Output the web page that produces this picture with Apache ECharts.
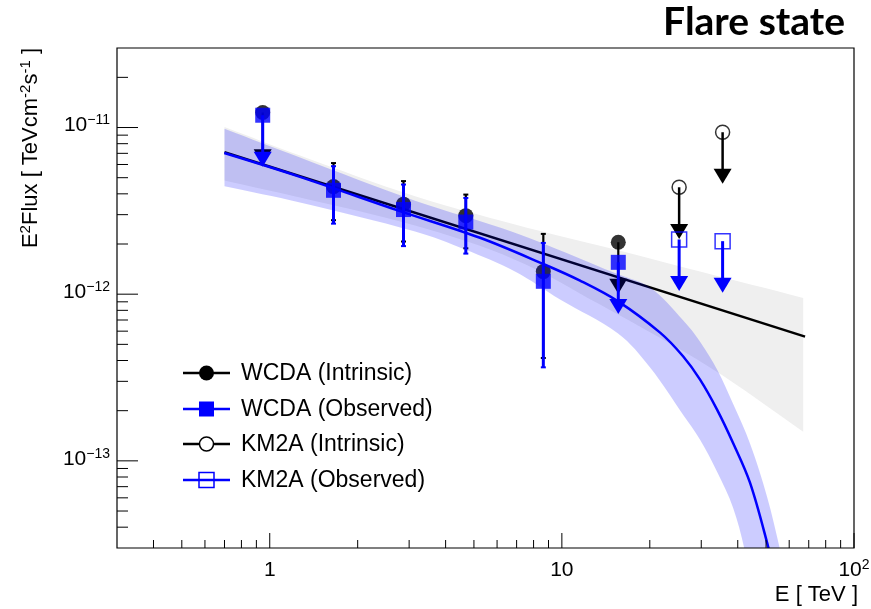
<!DOCTYPE html>
<html>
<head>
<meta charset="utf-8">
<title>Flare state</title>
<script src="https://cdn.jsdelivr.net/npm/echarts@6.0.0/dist/echarts.min.js"></script>
<style>
html,body{margin:0;padding:0;background:#ffffff;}
#chart{width:871px;height:609px;}
</style>
</head>
<body>
<div id="chart"></div>
<script>
// ---------------- data ----------------
// WCDA points (energy in TeV, E^2 flux in TeV cm^-2 s^-1)
const wcdaE      = [0.946, 1.653, 2.87, 4.69, 8.64, 15.6];
const wcdaIsUL   = [1, 0, 0, 0, 0, 1];
const wcdaIntF   = [1.23e-11, 4.42e-12, 3.47e-12, 2.96e-12, 1.366e-12, 2.05e-12];
const wcdaIntLo  = [null, 2.78e-12, 2.07e-12, 1.885e-12, 4.14e-13, null];
const wcdaIntHi  = [null, 6.12e-12, 4.77e-12, 3.96e-12, 2.30e-12, null];
const wcdaObsF   = [1.185e-11, 4.20e-12, 3.22e-12, 2.71e-12, 1.195e-12, 1.553e-12];
const wcdaObsLo  = [null, 2.65e-12, 1.943e-12, 1.752e-12, 3.64e-13, null];
const wcdaObsHi  = [null, 5.86e-12, 4.55e-12, 3.78e-12, 2.03e-12, null];
// KM2A upper limits
const km2aE      = [25.2, 35.5];
const km2aIntUL  = [4.38e-12, 9.37e-12];
const km2aObsUL  = [2.13e-12, 2.08e-12];

// intrinsic (power-law) fit line
const intFitE = [0.7, 68];
const intFitF = [7.11e-12, 5.56e-13];
// observed (absorbed) fit line
const obsFitE = [0.699, 1.269, 2.792, 5.245, 8.62, 11.54, 15.57, 21.69, 25.99, 29.72, 33.98, 38.55, 44.08, 50.79, 52.4];
const obsFitF = [7.03e-12, 5.06e-12, 3.15e-12, 2.18e-12, 1.52e-12, 1.206e-12, 9.06e-13, 5.88e-13, 4.24e-13, 3.07e-13, 2.03e-13, 1.28e-13, 7.37e-14, 3.07e-14, 2.38e-14];

// intrinsic fit uncertainty band (grey)
const intBandUpE = [0.7, 1.269, 3.143, 6.91, 15.2, 29.72, 67];
const intBandUpF = [1.007e-11, 6.79e-12, 3.87e-12, 2.62e-12, 1.852e-12, 1.366e-12, 9.50e-13];
const intBandLoE = [0.7, 1.269, 3.143, 6.91, 13.51, 32.15, 67];
const intBandLoF = [4.81e-12, 3.80e-12, 2.58e-12, 1.612e-12, 8.66e-13, 3.63e-13, 1.497e-13];

// observed fit uncertainty band (blue)
const obsBandUpE = [0.7, 1.269, 3.143, 6.91, 15.57, 20.04, 25.99, 29.72, 33.98, 38.55, 44.08, 50.39, 55.83, 58.07];
const obsBandUpF = [9.82e-12, 6.60e-12, 3.64e-12, 2.34e-12, 1.316e-12, 1.095e-12, 6.97e-13, 5.19e-13, 3.53e-13, 2.20e-13, 1.268e-13, 6.10e-14, 2.93e-14, 2.07e-14];
const obsBandLoE = [0.7, 1.269, 3.143, 4.66, 6.91, 9.857, 15.57, 20.04, 25.99, 29.72, 33.98, 38.55, 42.36, 43.38];
const obsBandLoF = [4.44e-12, 3.55e-12, 2.375e-12, 1.852e-12, 1.366e-12, 9.28e-13, 5.80e-13, 3.63e-13, 1.893e-13, 1.340e-13, 8.61e-14, 5.24e-14, 2.85e-14, 2.07e-14];

// axis range and ticks
const X_MIN = 0.3, X_MAX = 100;
const Y_MIN = 3e-14, Y_MAX = 3e-11;
const xMajorTicks = [1, 10, 100];
const xMinorTicks = [0.4, 0.5, 0.6, 0.7, 0.8, 0.9, 2, 3, 4, 5, 6, 7, 8, 9, 20, 30, 40, 50, 60, 70, 80, 90];
const xTickLabels = [[1, '1', ''], [10, '10', ''], [100, '10', '2']];
const yMajorTicks = [1e-13, 1e-12, 1e-11];
const yMinorTicks = [4e-14, 5e-14, 6e-14, 7e-14, 8e-14, 9e-14,
                     2e-13, 3e-13, 4e-13, 5e-13, 6e-13, 7e-13, 8e-13, 9e-13,
                     2e-12, 3e-12, 4e-12, 5e-12, 6e-12, 7e-12, 8e-12, 9e-12,
                     2e-11];
const yTickLabels = [[1e-13, '10', '\u221213'], [1e-12, '10', '\u221212'], [1e-11, '10', '\u221211']];

const legendLabels = ['WCDA (Intrinsic)', 'WCDA (Observed)', 'KM2A (Intrinsic)', 'KM2A (Observed)'];

// ---------------- styles ----------------
const FONT = 'Liberation Sans, Arial, Helvetica, sans-serif';
const BLUE = '#0000ff';
const BLACK = '#000000';
const GREY_BAND = '#efefef';
const BLUE_BAND = 'rgba(0,0,255,0.20)';
const UL_FACTOR = 0.49;     // arrow length of the upper limits (factor in flux)
const HEAD_LEN = 15, HEAD_HALF = 9;

// ---------------- helpers ----------------
function pairs(a, b) { return a.map((v, i) => [v, b[i]]); }

function bandSeries(upE, upF, loE, loF, fill, z) {
  return {
    type: 'custom', coordinateSystem: 'cartesian2d', z: z, silent: true, clip: true,
    data: [[1, 1e-12]],
    renderItem: function (params, api) {
      const up = upE.map((e, i) => api.coord([e, upF[i]]));
      const lo = loE.map((e, i) => api.coord([e, loF[i]])).reverse();
      // corner points doubled so that the smoothing keeps the band ends sharp
      const pts = [up[0]].concat(up, [up[up.length - 1]], [lo[0]], lo, [lo[lo.length - 1]]);
      return { type: 'polygon', shape: { points: pts, smooth: 0.35 }, style: { fill: fill } };
    }
  };
}

// the fitted curve, smoothed in screen space by the same renderer
function curveSeries(E, F, color, width, z) {
  return {
    type: 'custom', coordinateSystem: 'cartesian2d', z: z, silent: true, clip: true,
    data: [[1, 1e-12]],
    renderItem: function (params, api) {
      const pts = E.map((e, i) => api.coord([e, F[i]]));
      return { type: 'polyline', shape: { points: pts, smooth: 0.35 },
               style: { stroke: color, lineWidth: width, fill: 'none' } };
    }
  };
}

function errRows(E, F, lo, hi, ul) {
  return E.map((e, i) => [e, F[i], lo[i] == null ? F[i] : lo[i], hi[i] == null ? F[i] : hi[i], ul[i]]);
}

function errSeries(rows, color, lw, z) {
  return {
    type: 'custom', coordinateSystem: 'cartesian2d', z: z, silent: true, clip: true,
    data: rows,
    renderItem: function (params, api) {
      const E = api.value(0), F = api.value(1), lo = api.value(2), hi = api.value(3), ul = api.value(4);
      const c = api.coord([E, F]);
      const ch = [];
      if (ul) {
        const tip = api.coord([E, F * UL_FACTOR]);
        ch.push({ type: 'line', shape: { x1: c[0], y1: c[1], x2: tip[0], y2: tip[1] - HEAD_LEN + 2 },
                  style: { stroke: color, lineWidth: lw } });
        ch.push({ type: 'polygon', shape: { points: [[tip[0] - HEAD_HALF, tip[1] - HEAD_LEN], [tip[0] + HEAD_HALF, tip[1] - HEAD_LEN], [tip[0], tip[1]]] },
                  style: { fill: color } });
      } else {
        const a = api.coord([E, hi]), b = api.coord([E, lo]);
        ch.push({ type: 'line', shape: { x1: a[0], y1: a[1], x2: b[0], y2: b[1] }, style: { stroke: color, lineWidth: lw } });
        ch.push({ type: 'line', shape: { x1: a[0] - 2.5, y1: a[1], x2: a[0] + 2.5, y2: a[1] }, style: { stroke: color, lineWidth: 2 } });
        ch.push({ type: 'line', shape: { x1: b[0] - 2.5, y1: b[1], x2: b[0] + 2.5, y2: b[1] }, style: { stroke: color, lineWidth: 2 } });
      }
      return { type: 'group', children: ch };
    }
  };
}

const supRich = {
  b: { fontSize: 21, fontFamily: FONT, fill: '#000', lineHeight: 24 },
  s: { fontSize: 14, fontFamily: FONT, fill: '#000', verticalAlign: 'top', lineHeight: 24 }
};

const axesSeries = {
  type: 'custom', coordinateSystem: 'cartesian2d', z: 20, silent: true, clip: false,
  data: [[1, 1e-12]],
  renderItem: function (params, api) {
    const bl = api.coord([X_MIN, Y_MIN]), tr = api.coord([X_MAX, Y_MAX]);
    const L = bl[0], B = bl[1], R = tr[0], T = tr[1];
    const ch = [];
    const tick = (x1, y1, x2, y2) => ch.push({ type: 'line', shape: { x1, y1, x2, y2 }, style: { stroke: '#000', lineWidth: 1 } });
    xMajorTicks.forEach(v => { const x = api.coord([v, Y_MIN])[0]; tick(x, B, x, B - 15); });
    xMinorTicks.forEach(v => { const x = api.coord([v, Y_MIN])[0]; tick(x, B, x, B - 8); });
    yMajorTicks.forEach(v => { const y = api.coord([X_MIN, v])[1]; tick(L, y, L + 21, y); });
    yMinorTicks.forEach(v => { const y = api.coord([X_MIN, v])[1]; tick(L, y, L + 11, y); });
    // frame
    ch.push({ type: 'rect', shape: { x: L, y: T, width: R - L, height: B - T },
              style: { fill: 'none', stroke: '#000', lineWidth: 1.2 } });
    xTickLabels.forEach(t => {
      const x = api.coord([t[0], Y_MIN])[0];
      ch.push({ type: 'text', x: x, y: B + 10,
                style: { text: '{b|' + t[1] + '}' + (t[2] ? '{s|' + t[2] + '}' : ''), rich: supRich,
                         align: 'center', verticalAlign: 'top' } });
    });
    yTickLabels.forEach(t => {
      const y = api.coord([X_MIN, t[0]])[1];
      ch.push({ type: 'text', x: L - 7, y: y - 2,
                style: { text: '{b|' + t[1] + '}{s|' + t[2] + '}', rich: supRich,
                         align: 'right', verticalAlign: 'middle' } });
    });
    return { type: 'group', children: ch };
  }
};

// ---------------- legend (graphic) ----------------
const LEG_Y = [373, 409, 444, 480];
const legendGraphic = [];
const legStyles = [
  { color: BLACK, shape: 'circle', filled: true },
  { color: BLUE, shape: 'rect', filled: true },
  { color: BLACK, shape: 'circle', filled: false },
  { color: BLUE, shape: 'rect', filled: false }
];
legendLabels.forEach((lab, i) => {
  const y = LEG_Y[i], st = legStyles[i];
  legendGraphic.push({ type: 'line', shape: { x1: 183, y1: y, x2: 230, y2: y }, style: { stroke: st.color, lineWidth: 2.5 }, z: 30 });
  if (st.shape === 'circle') {
    legendGraphic.push({ type: 'circle', shape: { cx: 206.5, cy: y, r: st.filled ? 7.5 : 7 },
      style: st.filled ? { fill: st.color } : { fill: '#fff', stroke: st.color, lineWidth: 1.5 }, z: 31 });
  } else {
    legendGraphic.push({ type: 'rect', shape: { x: 199, y: y - 7.5, width: 15, height: 15 },
      style: st.filled ? { fill: st.color } : { fill: '#fff', stroke: st.color, lineWidth: 1.5 }, z: 31 });
    if (!st.filled) legendGraphic.push({ type: 'line', shape: { x1: 199, y1: y, x2: 214, y2: y }, style: { stroke: st.color, lineWidth: 2.5 }, z: 32 });
  }
  legendGraphic.push({ type: 'text', x: 241, y: y + 1, z: 31,
    style: { text: lab, fontSize: 23, fontFamily: FONT, fill: '#000', align: 'left', verticalAlign: 'middle' } });
});

// ---------------- chart ----------------
const chart = echarts.init(document.getElementById('chart'), null, { renderer: 'canvas' });

const option = {
  animation: false,
  backgroundColor: '#ffffff',
  grid: { left: 117, right: 17, top: 48, bottom: 61, show: false, containLabel: false },
  xAxis: {
    type: 'log', logBase: 10, min: X_MIN, max: X_MAX,
    axisLine: { show: false }, axisTick: { show: false }, axisLabel: { show: false }, splitLine: { show: false }
  },
  yAxis: {
    type: 'log', logBase: 10, min: Y_MIN, max: Y_MAX,
    axisLine: { show: false }, axisTick: { show: false }, axisLabel: { show: false }, splitLine: { show: false }
  },
  graphic: [
    { type: 'text', x: 845, y: 22, style: { text: 'Flare state', fontSize: 39, fontWeight: 'bold', fontFamily: 'Lato, Noto Sans, sans-serif', fill: '#000', align: 'right', verticalAlign: 'middle' } },
    { type: 'text', x: 858, y: 595, style: { text: 'E [ TeV ]', fontSize: 22, fontFamily: FONT, fill: '#000', align: 'right', verticalAlign: 'middle' } },
    { type: 'text', x: 31, y: 48, rotation: Math.PI / 2,
      style: { text: 'E{s|2}Flux [ TeVcm{s|-2}s{s|-1} ]', fontSize: 22, fontFamily: FONT, fill: '#000',
               align: 'right', verticalAlign: 'middle',
               rich: { s: { fontSize: 15, fontFamily: FONT, fill: '#000', verticalAlign: 'top', lineHeight: 26 } } } }
  ].concat(legendGraphic),
  series: [
    bandSeries(intBandUpE, intBandUpF, intBandLoE, intBandLoF, GREY_BAND, 1),
    { type: 'line', name: 'Intrinsic fit', z: 2, silent: true, symbol: 'none', clip: true,
      data: pairs(intFitE, intFitF), lineStyle: { color: BLACK, width: 2.5 } },
    errSeries(errRows(wcdaE, wcdaIntF, wcdaIntLo, wcdaIntHi, wcdaIsUL), BLACK, 2.2, 3),
    errSeries(errRows(km2aE, km2aIntUL, km2aIntUL.map(() => null), km2aIntUL.map(() => null), km2aIntUL.map(() => 1)), BLACK, 2.5, 3),
    { type: 'scatter', name: 'WCDA (Intrinsic)', z: 4, silent: true, symbol: 'circle', symbolSize: 15,
      data: pairs(wcdaE, wcdaIntF), itemStyle: { color: BLACK } },
    { type: 'scatter', name: 'KM2A (Intrinsic)', z: 4, silent: true, symbol: 'circle', symbolSize: 14,
      data: pairs(km2aE, km2aIntUL), itemStyle: { color: 'rgba(0,0,0,0)', borderColor: BLACK, borderWidth: 1.5 } },
    bandSeries(obsBandUpE, obsBandUpF, obsBandLoE, obsBandLoF, BLUE_BAND, 5),
    curveSeries(obsFitE, obsFitF, BLUE, 2.5, 6),
    errSeries(errRows(wcdaE, wcdaObsF, wcdaObsLo, wcdaObsHi, wcdaIsUL), BLUE, 3, 7),
    errSeries(errRows(km2aE, km2aObsUL, km2aObsUL.map(() => null), km2aObsUL.map(() => null), km2aObsUL.map(() => 1)), BLUE, 3, 7),
    { type: 'scatter', name: 'WCDA (Observed)', z: 8, silent: true, symbol: 'rect', symbolSize: 15,
      data: pairs(wcdaE, wcdaObsF), itemStyle: { color: BLUE } },
    { type: 'scatter', name: 'KM2A (Observed)', z: 8, silent: true, symbol: 'rect', symbolSize: 15,
      data: pairs(km2aE, km2aObsUL), itemStyle: { color: 'rgba(0,0,0,0)', borderColor: BLUE, borderWidth: 1.5 } },
    axesSeries
  ]
};
chart.setOption(option);
</script>
</body>
</html>
